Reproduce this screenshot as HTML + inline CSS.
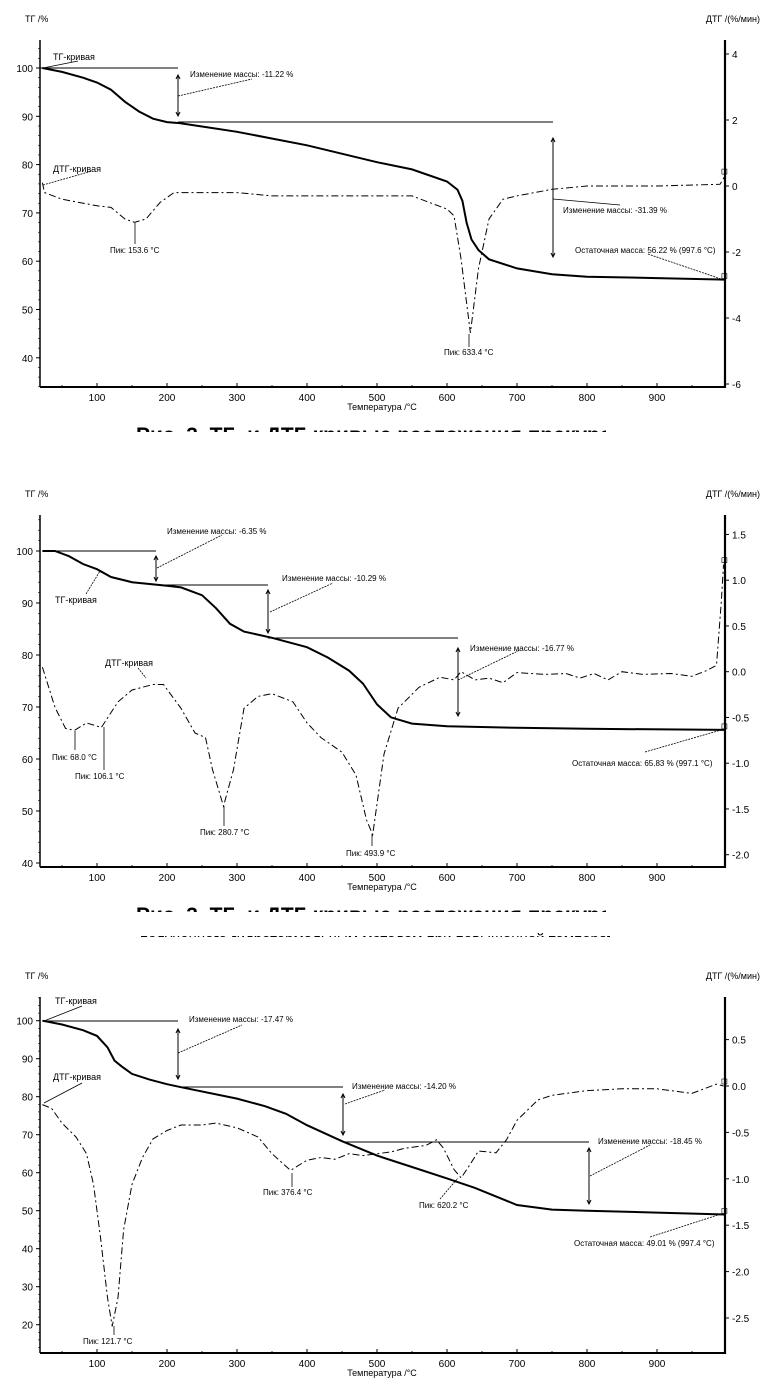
<!DOCTYPE html>
<html><head><meta charset="utf-8">
<style>
html,body{margin:0;padding:0;background:#fff;}
svg{display:block;font-family:"Liberation Sans",Arial,sans-serif;}
.cap{position:absolute;left:136px;font:bold 21px "Liberation Sans",sans-serif;white-space:nowrap;overflow:hidden;color:#000;}
</style></head>
<body>
<div style="position:relative;width:762px;height:1388px;overflow:hidden;">
<svg id="s" width="762" height="1388" viewBox="0 0 762 1388"></svg>
<div class="cap" style="top:424px;height:8px;width:470px;">Рис. 3. ТГ- и ДТГ-кривые разложения прекурсора NaY<sub style="font-size:9px">2</sub>O<sub style="font-size:9px">19</sub></div>
<div class="cap" style="top:904px;height:8px;width:470px;">Рис. 3. ТГ- и ДТГ-кривые разложения прекурсора NaY<sub style="font-size:9px">2</sub>O<sub style="font-size:9px">19</sub></div>
<div class="cap" style="top:931px;left:140px;height:6px;width:470px;font-size:15px;font-weight:normal;">полученного гидротермальным методом при повышенной температуре</div>
</div>
<script>
// ---------- data ----------
const xTicks = [100,200,300,400,500,600,700,800,900];

const c1TgT = [22,50,80,100,120,140,160,180,200,218,300,400,500,550,600,615,622,628,635,645,660,700,750,800,900,997];
const c1Tg  = [100,99.2,98,97,95.5,93,91,89.5,88.8,88.6,86.8,84,80.5,79,76.5,74.8,72.5,68,64.5,62.3,60.4,58.5,57.3,56.8,56.5,56.2];
const c1DtgT = [22,25,50,100,120,140,153.6,170,190,210,230,300,350,400,500,550,600,610,620,633.4,645,660,680,700,750,800,900,990,997];
const c1Dtg  = [0.1,-0.2,-0.4,-0.6,-0.65,-1.0,-1.1,-1.0,-0.5,-0.2,-0.2,-0.2,-0.3,-0.3,-0.3,-0.3,-0.7,-0.9,-2.2,-4.45,-2.5,-1.0,-0.4,-0.3,-0.1,0,0,0.05,0.3];
const c1LeftTicks = [40,50,60,70,80,90,100];
const c1RightTicks = [-6,-4,-2,0,2,4];
const c1RightLabels = ['-6','-4','-2','0','2','4'];

const c2TgT = [22,40,60,80,100,120,150,200,220,250,270,290,310,350,400,430,460,480,500,520,550,600,700,800,997];
const c2Tg  = [100,100,99,97.5,96.5,95,94,93.3,93,91.5,89,86,84.5,83.3,81.5,79.5,77,74.5,70.5,68,66.8,66.3,66,65.8,65.6];
const c2DtgT = [22,40,55,68,85,106.1,130,150,180,195,220,240,255,265,280.7,295,310,330,350,380,400,420,450,470,485,493.9,510,530,560,590,610,620,640,660,680,700,740,770,790,810,830,850,880,920,950,970,985,992,995];
const c2Dtg  = [0.05,-0.39,-0.62,-0.64,-0.56,-0.61,-0.33,-0.2,-0.14,-0.14,-0.4,-0.67,-0.72,-1.07,-1.47,-1.07,-0.4,-0.27,-0.24,-0.33,-0.56,-0.72,-0.88,-1.13,-1.62,-1.78,-0.9,-0.4,-0.17,-0.06,-0.09,0,-0.09,-0.07,-0.12,-0.01,-0.03,-0.02,-0.07,-0.02,-0.09,0,-0.03,-0.02,-0.05,0.01,0.07,0.78,1.17];
const c2LeftTicks = [40,50,60,70,80,90,100];
const c2RightTicks = [-2.0,-1.5,-1.0,-0.5,0.0,0.5,1.0,1.5];
const c2RightLabels = ['-2.0','-1.5','-1.0','-0.5','0.0','0.5','1.0','1.5'];

const c3TgT = [22,50,80,100,115,125,135,150,175,200,220,300,340,370,400,450,500,550,600,640,680,700,750,800,900,997];
const c3Tg  = [100,99,97.5,96,93,89.5,88,86,84.5,83.3,82.5,79.5,77.5,75.5,72.5,68.3,64.5,61.5,58.5,56,53,51.5,50.3,50,49.5,49.0];
const c3DtgT = [22,35,50,70,85,95,105,115,121.7,130,138,150,165,180,200,220,250,270,300,330,350,376.4,400,420,440,460,480,520,540,570,585,595,610,620.2,630,645,670,685,700,730,750,800,850,900,950,985,995];
const c3Dtg  = [-0.2,-0.24,-0.4,-0.55,-0.73,-1.06,-1.63,-2.28,-2.59,-2.28,-1.55,-1.06,-0.77,-0.57,-0.48,-0.42,-0.42,-0.4,-0.45,-0.55,-0.73,-0.91,-0.8,-0.77,-0.79,-0.73,-0.75,-0.71,-0.67,-0.64,-0.58,-0.67,-0.9,-0.99,-0.88,-0.7,-0.72,-0.58,-0.37,-0.15,-0.1,-0.05,-0.03,-0.03,-0.08,0.02,0];
const c3LeftTicks = [20,30,40,50,60,70,80,90,100];
const c3RightTicks = [-2.5,-2.0,-1.5,-1.0,-0.5,0.0,0.5];
const c3RightLabels = ['-2.5','-2.0','-1.5','-1.0','-0.5','0.0','0.5'];

// ---------- drawing ----------
const NS = "http://www.w3.org/2000/svg";
const svg = document.getElementById('s');
function el(tag, attrs, parent){
  const e = document.createElementNS(NS, tag);
  for (const k in attrs) e.setAttribute(k, attrs[k]);
  (parent||svg).appendChild(e);
  return e;
}
const X = t => 97 + (t - 100) * 0.7;
const XL = 40, XR = 725;

function txt(x,y,s,size,anchor,name,weight){
  const t = el('text',{x:x,y:y,'font-size':size||9,'text-anchor':anchor||'start',fill:'#000'});
  if(weight) t.setAttribute('font-weight',weight);
  t.textContent = s;
  
  
  return t;
}
function line(x1,y1,x2,y2,w,dash,name){
  const l = el('line',{x1:x1,y1:y1,x2:x2,y2:y2,stroke:'#000','stroke-width':w||1});
  if(dash) l.setAttribute('stroke-dasharray',dash);
  
  
  return l;
}
function arrow(x,y1,y2,name){
  line(x,y1,x,y2,1,null,name);
  const p = el('path',{d:`M${x-2},${y1+4} L${x},${y1} L${x+2},${y1+4} M${x-2},${y2-4} L${x},${y2} L${x+2},${y2-4}`,stroke:'#000',fill:'none','stroke-width':1});
  
  
}

function chart(c, idx){
  const g = el('g',{});
  
  
  const YT = v => c.y100 + (100 - v) * c.per10 / 10;
  const YD = v => c.y0 - v * c.perU;
  line(XL,c.top,XL,c.bot,1.5,null,'left-axis-'+idx);
  line(XL,c.bot,XR,c.bot,2,null,'x-axis-'+idx);
  line(XR,c.top,XR,c.bot+1,2.2,null,'right-axis-'+idx);
  c.lt.forEach(v=>{
    const y = YT(v);
    line(XL-4,y,XL,y,1,null,'left-tick-'+idx);
    txt(XL-7,y+4,String(v),10,'end','left-tick-label-'+idx);
  });
  for(let v=c.lt[0]-10; v<=c.lt[c.lt.length-1]+10; v+=2){
    const y = YT(v); if(y>c.top && y<c.bot) line(XL-2,y,XL,y,0.6,null,'left-minor-tick-'+idx);
  }
  c.rt.forEach((v,i)=>{
    const y = YD(v);
    line(XR,y,XR+4,y,1,null,'right-tick-'+idx);
    txt(XR+7,y+4,c.rl[i],10,'start','right-tick-label-'+idx);
  });
  xTicks.forEach(t=>{
    line(X(t),c.bot,X(t),c.bot-4,1,null,'x-tick-'+idx);
    txt(X(t),c.bot+14,String(t),10,'middle','x-tick-label-'+idx);
  });
  for(let t=50;t<1000;t+=50){ if(t%100) line(X(t),c.bot,X(t),c.bot-2,0.8,null,'x-minor-tick-'+idx); }
  txt(25,c.top-18,'ТГ /%',9,'start','y-axis-title-left-'+idx);
  txt(760,c.top-18,'ДТГ /(%/мин)',9,'end','y-axis-title-right-'+idx);
  txt(382,c.bot+23,'Температура /°C',9,'middle','x-axis-title-'+idx);
  const tg = el('path',{d:c.tgT.map((t,i)=>(i?'L':'M')+X(t).toFixed(1)+','+YT(c.tg[i]).toFixed(1)).join(' '),fill:'none',stroke:'#000','stroke-width':2});
  
  
  const dt = el('path',{d:c.dT.map((t,i)=>(i?'L':'M')+X(t).toFixed(1)+','+YD(c.d[i]).toFixed(1)).join(' '),fill:'none',stroke:'#000','stroke-width':1,'stroke-dasharray':'7,3,2,3'});
  
  
  const m1 = el('rect',{x:X(997)-3,y:YT(c.tg[c.tg.length-1])-6,width:5,height:5,fill:'none',stroke:'#000','stroke-width':0.6});
  
  
  const m2 = el('rect',{x:X(997)-3,y:YD(c.d[c.d.length-1])-7,width:5,height:5,fill:'none',stroke:'#000','stroke-width':0.6});
  
  
}

chart({top:40,bot:387,y100:68,per10:48.3,y0:186,perU:33,lt:c1LeftTicks,rt:c1RightTicks,rl:c1RightLabels,tgT:c1TgT,tg:c1Tg,dT:c1DtgT,d:c1Dtg},1);
chart({top:515,bot:867,y100:551,per10:52,y0:671.7,perU:91.5,lt:c2LeftTicks,rt:c2RightTicks,rl:c2RightLabels,tgT:c2TgT,tg:c2Tg,dT:c2DtgT,d:c2Dtg},2);
chart({top:997,bot:1353,y100:1020.7,per10:38,y0:1086,perU:92.8,lt:c3LeftTicks,rt:c3RightTicks,rl:c3RightLabels,tgT:c3TgT,tg:c3Tg,dT:c3DtgT,d:c3Dtg},3);

// ---------- annotations chart 1 ----------
txt(53,60,'ТГ-кривая',9,'start','tg-curve-label-1');
line(43,68,78,61,0.8,null,'tg-label-leader-1');
line(40,68,178,68,1,null,'step-line-1a');
line(178,122,553,122,1,null,'step-line-1b');
arrow(178,75,116,'mass-change-arrow-1a');
line(178,96,252,79,0.8,'2,1','mass-change-leader-1a');
txt(190,77,'Изменение массы: -11.22 %',8,'start','mass-change-label-1a');
arrow(553,138,257,'mass-change-arrow-1b');
line(553,199,620,205,0.8,null,'mass-change-leader-1b');
txt(563,213,'Изменение массы: -31.39 %',8,'start','mass-change-label-1b');
txt(575,253,'Остаточная масса: 56.22 % (997.6 °C)',8,'start','residual-mass-label-1');
line(648,254,721,279,0.8,'2,1','residual-leader-1');
txt(53,172,'ДТГ-кривая',9,'start','dtg-curve-label-1');
line(43,185,92,171,0.8,'2,1','dtg-label-leader-1');
line(135,223,135,244,0.8,null,'peak-tick-1a');
txt(110,253,'Пик: 153.6 °C',8,'start','peak-label-1a');
line(469,334,469,347,0.8,null,'peak-tick-1b');
txt(444,355,'Пик: 633.4 °C',8,'start','peak-label-1b');

// ---------- annotations chart 2 ----------
line(44,551,156,551,1,null,'step-line-2a');
line(156,585,268,585,1,null,'step-line-2b');
line(268,638,458,638,1,null,'step-line-2c');
arrow(156,556,581,'mass-change-arrow-2a');
arrow(268,590,633,'mass-change-arrow-2b');
arrow(458,648,716,'mass-change-arrow-2c');
line(157,568,222,535,0.8,'2,1','mass-change-leader-2a');
line(270,612,333,583,0.8,'2,1','mass-change-leader-2b');
line(458,680,520,650,0.8,'2,1','mass-change-leader-2c');
txt(167,534,'Изменение массы: -6.35 %',8,'start','mass-change-label-2a');
txt(282,581,'Изменение массы: -10.29 %',8,'start','mass-change-label-2b');
txt(470,651,'Изменение массы: -16.77 %',8,'start','mass-change-label-2c');
txt(55,603,'ТГ-кривая',9,'start','tg-curve-label-2');
line(86,594,100,571,0.8,'2,1','tg-label-leader-2');
txt(105,666,'ДТГ-кривая',9,'start','dtg-curve-label-2');
line(138,668,146,678,0.8,'2,1','dtg-label-leader-2');
line(75,731,75,750,0.8,null,'peak-tick-2a');
txt(52,760,'Пик: 68.0 °C',8,'start','peak-label-2a');
line(104,727,104,770,0.8,null,'peak-tick-2b');
txt(75,779,'Пик: 106.1 °C',8,'start','peak-label-2b');
line(224,806,224,826,0.8,null,'peak-tick-2c');
txt(200,835,'Пик: 280.7 °C',8,'start','peak-label-2c');
line(372,834,372,846,0.8,null,'peak-tick-2d');
txt(346,856,'Пик: 493.9 °C',8,'start','peak-label-2d');
txt(572,766,'Остаточная масса: 65.83 % (997.1 °C)',8,'start','residual-mass-label-2');
line(645,752,721,730,0.8,'2,1','residual-leader-2');

// ---------- annotations chart 3 ----------
line(44,1021,178,1021,1,null,'step-line-3a');
line(178,1087,343,1087,1,null,'step-line-3b');
line(343,1142,589,1142,1,null,'step-line-3c');
arrow(178,1029,1079,'mass-change-arrow-3a');
arrow(343,1094,1135,'mass-change-arrow-3b');
arrow(589,1148,1204,'mass-change-arrow-3c');
line(178,1053,242,1025,0.8,'2,1','mass-change-leader-3a');
line(345,1104,385,1090,0.8,'2,1','mass-change-leader-3b');
line(590,1176,650,1145,0.8,'2,1','mass-change-leader-3c');
txt(189,1022,'Изменение массы: -17.47 %',8,'start','mass-change-label-3a');
txt(352,1089,'Изменение массы: -14.20 %',8,'start','mass-change-label-3b');
txt(598,1144,'Изменение массы: -18.45 %',8,'start','mass-change-label-3c');
txt(55,1004,'ТГ-кривая',9,'start','tg-curve-label-3');
line(44,1021,82,1006,0.8,null,'tg-label-leader-3');
txt(53,1080,'ДТГ-кривая',9,'start','dtg-curve-label-3');
line(44,1103,82,1083,0.8,null,'dtg-label-leader-3');
line(114,1326,114,1335,0.8,null,'peak-tick-3a');
txt(83,1344,'Пик: 121.7 °C',8,'start','peak-label-3a');
line(292,1173,292,1187,0.8,null,'peak-tick-3b');
txt(263,1195,'Пик: 376.4 °C',8,'start','peak-label-3b');
line(440,1199,458,1178,0.8,'2,1','peak-leader-3c');
txt(419,1208,'Пик: 620.2 °C',8,'start','peak-label-3c');
txt(574,1246,'Остаточная масса: 49.01 % (997.4 °C)',8,'start','residual-mass-label-3');
line(650,1237,721,1214,0.8,'2,1','residual-leader-3');
</script>
</body></html>
